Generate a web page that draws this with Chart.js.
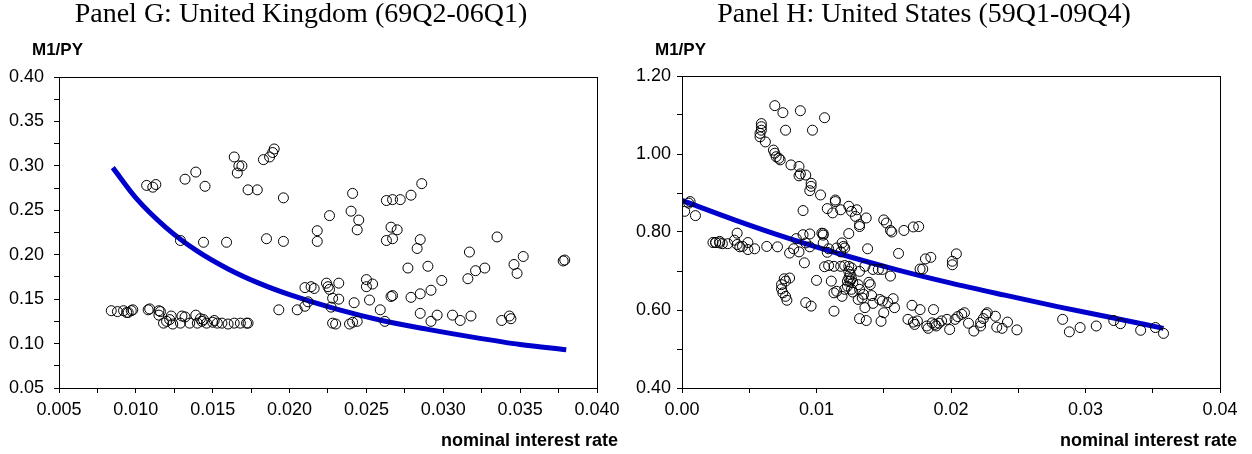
<!DOCTYPE html>
<html>
<head>
<meta charset="utf-8">
<script src="https://cdn.jsdelivr.net/npm/chart.js@4.4.1/dist/chart.umd.min.js"></script>
<style>
  body { margin: 0; background: #fff; }
  #wrap { position: relative; width: 1252px; height: 454px; overflow: hidden; }
  canvas { position: absolute; top: 0; }
  .title { position: absolute; top: -1px; font-family: "Liberation Serif", serif; font-size: 28px; line-height: 28px; white-space: nowrap; transform: translateX(-50%); }
  .ylab { position: absolute; top: 41px; font-family: "Liberation Sans", Arial, sans-serif; font-weight: bold; font-size: 17px; line-height: 17px; }
  .xlab { position: absolute; top: 431px; font-family: "Liberation Sans", Arial, sans-serif; font-weight: bold; font-size: 18px; line-height: 18px; white-space: nowrap; transform: translateX(-100%); }
</style>
</head>
<body>
<div id="wrap">
  <canvas id="ukChart" width="626" height="454" style="left:0"></canvas>
  <canvas id="usChart" width="626" height="454" style="left:626px"></canvas>
  <div class="title" style="left:301px">Panel G: United Kingdom (69Q2-06Q1)</div>
  <div class="title" style="left:924px">Panel H: United States (59Q1-09Q4)</div>
  <div class="ylab" style="left:32px">M1/PY</div>
  <div class="ylab" style="left:655px">M1/PY</div>
  <div class="xlab" style="left:618px">nominal interest rate</div>
  <div class="xlab" style="left:1237px">nominal interest rate</div>
</div>
<script>
// Panel G: United Kingdom, scatter
const ukRate = [
  0.0107, 0.0111, 0.0113, 0.0132, 0.0139, 0.0145, 0.0164, 0.0167, 0.0166, 0.0169,
  0.0173, 0.0179, 0.0183, 0.0187, 0.0189, 0.0190, 0.0196, 0.0129, 0.0144, 0.0159,
  0.0185, 0.0196, 0.0218, 0.0218, 0.0210, 0.0214, 0.0216, 0.0210, 0.0212, 0.0193,
  0.0205, 0.0084, 0.0088, 0.0092, 0.0094, 0.0095, 0.0097, 0.0098, 0.0108, 0.0109,
  0.0115, 0.0116, 0.0115, 0.0118, 0.0120, 0.0122, 0.0124, 0.0129, 0.0135, 0.0140,
  0.0143, 0.0146, 0.0150, 0.0153, 0.0156, 0.0160, 0.0164, 0.0168, 0.0172, 0.0173,
  0.0123, 0.0130, 0.0132, 0.0139, 0.0142, 0.0144, 0.0151, 0.0226, 0.0241, 0.0240,
  0.0245, 0.0244, 0.0263, 0.0267, 0.0272, 0.0279, 0.0286, 0.0266, 0.0270, 0.0263,
  0.0267, 0.0285, 0.0283, 0.0335, 0.0317, 0.0346, 0.0352, 0.0348, 0.0378, 0.0379,
  0.0316, 0.0321, 0.0327, 0.0299, 0.0290, 0.0277, 0.0292, 0.0285, 0.0279, 0.0266,
  0.0267, 0.0285, 0.0292, 0.0296, 0.0306, 0.0311, 0.0318, 0.0338, 0.0343, 0.0344,
  0.0262, 0.0259, 0.0252, 0.0242, 0.0228, 0.0232, 0.0227, 0.0228, 0.0230, 0.0239,
  0.0241, 0.0244, 0.0224, 0.0225, 0.0226, 0.0232, 0.0250, 0.0250, 0.0254
];
const ukM1 = [
  0.278, 0.276, 0.279, 0.285, 0.293, 0.277, 0.310, 0.300, 0.292, 0.300,
  0.273, 0.273, 0.307, 0.310, 0.315, 0.319, 0.264, 0.216, 0.214, 0.214,
  0.218, 0.215, 0.227, 0.215, 0.163, 0.164, 0.162, 0.142, 0.147, 0.138,
  0.138, 0.137, 0.136, 0.137, 0.135, 0.135, 0.137, 0.138, 0.138, 0.139,
  0.137, 0.136, 0.132, 0.123, 0.125, 0.127, 0.122, 0.123, 0.123, 0.123,
  0.125, 0.123, 0.124, 0.123, 0.123, 0.122, 0.123, 0.123, 0.123, 0.123,
  0.131, 0.131, 0.130, 0.132, 0.128, 0.127, 0.126, 0.244, 0.269, 0.249,
  0.239, 0.228, 0.261, 0.262, 0.262, 0.267, 0.280, 0.231, 0.228, 0.216,
  0.218, 0.217, 0.207, 0.220, 0.203, 0.189, 0.198, 0.179, 0.193, 0.194,
  0.173, 0.182, 0.185, 0.171, 0.187, 0.185, 0.160, 0.156, 0.152, 0.153,
  0.154, 0.134, 0.125, 0.132, 0.132, 0.126, 0.131, 0.126, 0.131, 0.128,
  0.125, 0.138, 0.149, 0.146, 0.151, 0.150, 0.141, 0.123, 0.122, 0.122,
  0.124, 0.125, 0.168, 0.164, 0.161, 0.168, 0.172, 0.164, 0.167
];
// Panel G fitted curve
const ukFitRate = [0.0085, 0.010, 0.012, 0.014, 0.016, 0.018, 0.020, 0.023, 0.026, 0.029, 0.032, 0.035, 0.038];
const ukFitM1 = [0.298, 0.264, 0.230, 0.204, 0.184, 0.168, 0.155, 0.139, 0.126, 0.116, 0.107, 0.099, 0.093];

// Panel H: United States, scatter
const usRate = [
  0.0069, 0.0075, 0.0088, 0.0106, 0.0077, 0.0097, 0.0059, 0.0059, 0.0059, 0.0058,
  0.0058, 0.0062, 0.0068, 0.0069, 0.0070, 0.0072, 0.0073, 0.0081, 0.0087, 0.0087,
  0.0088, 0.0092, 0.0096, 0.0096, 0.0095, 0.0103, 0.0114, 0.0114, 0.0108, 0.0112,
  0.0118, 0.0124, 0.0126, 0.0130, 0.0129, 0.0132, 0.0137, 0.0090, 0.0150, 0.0152,
  0.0155, 0.0002, 0.0005, 0.0006, 0.0010, 0.0090, 0.0105, 0.0105, 0.0124, 0.0041,
  0.0023, 0.0025, 0.0028, 0.0025, 0.0028, 0.0030, 0.0034, 0.0039, 0.0041, 0.0043,
  0.0045, 0.0049, 0.0049, 0.0054, 0.0063, 0.0071, 0.0085, 0.0083, 0.0080, 0.0087,
  0.0091, 0.0095, 0.0092, 0.0095, 0.0104, 0.0105, 0.0109, 0.0108, 0.0115, 0.0119,
  0.0120, 0.0121, 0.0118, 0.0132, 0.0138, 0.0161, 0.0172, 0.0176, 0.0165, 0.0156,
  0.0106, 0.0109, 0.0113, 0.0118, 0.0121, 0.0124, 0.0126, 0.0124, 0.0125, 0.0124,
  0.0125, 0.0123, 0.0126, 0.0132, 0.0136, 0.0142, 0.0146, 0.0149, 0.0155, 0.0100,
  0.0111, 0.0115, 0.0119, 0.0127, 0.0131, 0.0132, 0.0139, 0.0140, 0.0121, 0.0126,
  0.0127, 0.0123, 0.0113, 0.0131, 0.0134, 0.0135, 0.0141, 0.0136, 0.0132, 0.0137,
  0.0142, 0.0147, 0.0149, 0.0153, 0.0157, 0.0158, 0.0150, 0.0148, 0.0113, 0.0092,
  0.0096, 0.0076, 0.0077, 0.0080, 0.0074, 0.0074, 0.0075, 0.0077, 0.0078, 0.0171,
  0.0168, 0.0172, 0.0173, 0.0177, 0.0177, 0.0179, 0.0181, 0.0185, 0.0201, 0.0201,
  0.0204, 0.0187, 0.0175, 0.0182, 0.0183, 0.0186, 0.0188, 0.0189, 0.0191, 0.0193,
  0.0197, 0.0199, 0.0203, 0.0205, 0.0208, 0.0210, 0.0213, 0.0217, 0.0222, 0.0222,
  0.0224, 0.0226, 0.0227, 0.0233, 0.0234, 0.0238, 0.0242, 0.0249, 0.0283, 0.0288,
  0.0296, 0.0308, 0.0321, 0.0326, 0.0341, 0.0352, 0.0358
];
const usM1 = [
  1.124, 1.106, 1.111, 1.093, 1.061, 1.061, 1.078, 1.070, 1.061, 1.053,
  1.044, 1.031, 1.010, 1.002, 0.993, 0.989, 0.985, 0.972, 0.968, 0.944,
  0.949, 0.946, 0.925, 0.917, 0.906, 0.895, 0.882, 0.878, 0.860, 0.849,
  0.857, 0.866, 0.853, 0.857, 0.840, 0.819, 0.836, 0.855, 0.831, 0.823,
  0.804, 0.853, 0.874, 0.878, 0.842, 0.793, 0.796, 0.792, 0.796, 0.797,
  0.773, 0.773, 0.772, 0.773, 0.776, 0.770, 0.770, 0.779, 0.768, 0.762,
  0.763, 0.773, 0.755, 0.757, 0.763, 0.762, 0.783, 0.757, 0.746, 0.749,
  0.721, 0.795, 0.772, 0.762, 0.797, 0.772, 0.757, 0.748, 0.759, 0.772,
  0.763, 0.759, 0.749, 0.814, 0.757, 0.745, 0.813, 0.814, 0.804, 0.800,
  0.711, 0.714, 0.712, 0.712, 0.714, 0.712, 0.708, 0.699, 0.691, 0.682,
  0.674, 0.674, 0.680, 0.699, 0.712, 0.704, 0.704, 0.704, 0.687, 0.676,
  0.674, 0.648, 0.635, 0.670, 0.665, 0.653, 0.671, 0.665, 0.653, 0.653,
  0.646, 0.661, 0.644, 0.627, 0.631, 0.640, 0.637, 0.606, 0.578, 0.573,
  0.617, 0.627, 0.623, 0.619, 0.629, 0.606, 0.593, 0.571, 0.597, 0.619,
  0.610, 0.680, 0.674, 0.682, 0.665, 0.654, 0.644, 0.635, 0.625, 0.612,
  0.576, 0.569, 0.563, 0.601, 0.705, 0.705, 0.731, 0.735, 0.725, 0.716,
  0.744, 0.601, 0.572, 0.559, 0.553, 0.567, 0.563, 0.559, 0.566, 0.572,
  0.576, 0.550, 0.576, 0.583, 0.589, 0.593, 0.566, 0.546, 0.559, 0.568,
  0.578, 0.589, 0.593, 0.584, 0.556, 0.553, 0.569, 0.549, 0.576, 0.544,
  0.555, 0.559, 0.573, 0.565, 0.548, 0.555, 0.540
];
// Panel H fitted curve
const usFitRate = [0, 0.004, 0.008, 0.012, 0.016, 0.020, 0.024, 0.028, 0.032, 0.0358];
const usFitM1 = [0.881, 0.830, 0.783, 0.741, 0.703, 0.669, 0.638, 0.608, 0.580, 0.553];

const pairs = (xs, ys) => xs.map((x, i) => ({ x: x, y: ys[i] }));

const frame = {
  id: 'frame',
  afterDatasetsDraw(chart) {
    const a = chart.chartArea;
    const ctx = chart.ctx;
    ctx.save();
    ctx.strokeStyle = '#000';
    ctx.lineWidth = 1;
    ctx.strokeRect(Math.round(a.left) + 0.5, Math.round(a.top) + 0.5,
      Math.round(a.right - a.left), Math.round(a.bottom - a.top));
    ctx.restore();
  }
};

const tickFont = { family: '"Liberation Sans", Arial, sans-serif', size: 18 };

function makeChart(id, cfg) {
  return new Chart(document.getElementById(id), {
    type: 'scatter',
    data: {
      datasets: [{
        data: pairs(cfg.rate, cfg.m1),
        pointRadius: 5,
        pointBorderWidth: 1,
        pointBackgroundColor: 'rgba(0,0,0,0)',
        pointBorderColor: '#000',
        order: 0
      }, {
        type: 'line',
        data: pairs(cfg.fitRate, cfg.fitM1),
        borderColor: '#0000CC',
        borderWidth: 5,
        pointRadius: 0,
        cubicInterpolationMode: 'monotone',
        fill: false,
        order: 1
      }]
    },
    options: {
      responsive: false,
      animation: false,
      layout: { padding: { top: cfg.top, right: cfg.right, left: 0, bottom: 0 } },
      plugins: { legend: { display: false }, tooltip: { enabled: false } },
      scales: {
        x: {
          type: 'linear',
          min: cfg.xMin, max: cfg.xMax,
          afterFit: s => { s.height = 66; },
          border: { display: true, color: '#000', width: 1 },
          grid: { drawOnChartArea: false, drawTicks: true, tickLength: 5, color: '#000' },
          ticks: {
            stepSize: cfg.xStep, autoSkip: false, maxRotation: 0, padding: 6,
            color: '#000', font: tickFont,
            callback: cfg.xLabel
          }
        },
        y: {
          min: cfg.yMin, max: cfg.yMax,
          afterFit: s => { s.width = cfg.left; },
          border: { display: true, color: '#000', width: 1 },
          grid: { drawOnChartArea: false, drawTicks: true, tickLength: 5, color: '#000' },
          ticks: {
            stepSize: cfg.yStep, autoSkip: false, padding: cfg.yPad,
            color: '#000', font: tickFont,
            callback: cfg.yLabel
          }
        }
      }
    },
    plugins: [frame]
  });
}

makeChart('ukChart', {
  rate: ukRate, m1: ukM1, fitRate: ukFitRate, fitM1: ukFitM1,
  xMin: 0.005, xMax: 0.04, xStep: 0.0025,
  yMin: 0.05, yMax: 0.40, yStep: 0.025,
  top: 77, right: 29, left: 59, yPad: 10,
  xLabel: v => Math.round(v * 10000) % 50 === 0 ? v.toFixed(3) : '',
  yLabel: v => Math.round(v * 1000) % 50 === 0 ? v.toFixed(2) : ''
});

makeChart('usChart', {
  rate: usRate, m1: usM1, fitRate: usFitRate, fitM1: usFitM1,
  xMin: 0, xMax: 0.04, xStep: 0.005,
  yMin: 0.40, yMax: 1.20, yStep: 0.10,
  top: 76, right: 32, left: 56, yPad: 6,
  xLabel: v => Math.round(v * 1000) % 10 === 0 ? v.toFixed(2) : '',
  yLabel: v => Math.round(v * 100) % 20 === 0 ? v.toFixed(2) : ''
});
</script>
</body>
</html>
